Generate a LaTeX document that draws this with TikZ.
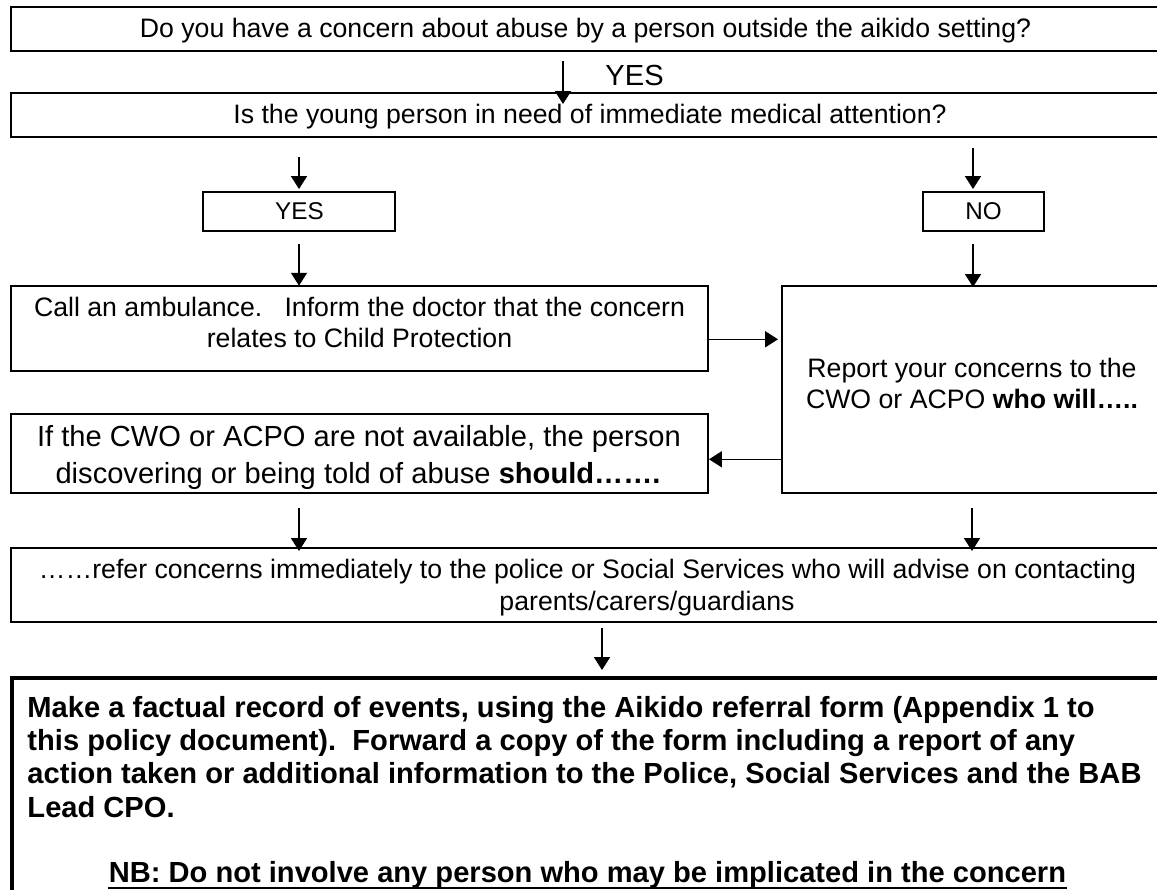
\documentclass[tikz,border=0pt]{standalone}
\usepackage{fontspec}
\setmainfont{Liberation Sans}
\usetikzlibrary{arrows.meta,fit,calc}
\tikzset{
  box/.style={draw, line width=0.82pt, inner sep=0pt, rectangle},
  boldbox/.style={draw, line width=1.65pt, inner sep=0pt, rectangle},
  txt/.style={inner sep=0pt, anchor=base, font=\fontsize{11}{12.65}\selectfont},
  txtbig/.style={txt, font=\fontsize{12}{14}\selectfont},
  txtsmall/.style={txt, font=\fontsize{10}{12}\selectfont},
  txtbold/.style={inner sep=0pt, anchor=base west, font=\fontsize{12}{14}\selectfont\bfseries},
  arr/.style={line width=0.55pt, -{Triangle[width=6.6pt,length=5.3pt]}},
}
\begin{document}
\begin{tikzpicture}[x=0.4124pt,y=-0.4124pt]
\useasboundingbox (0,0) rectangle (1157,890);
\clip (0,0) rectangle (1157,890);

% boxes
\node[box, fit={(11,7)(1162,51)}] (b1) {};
\node[box, fit={(11,93)(1162,137)}] (b2) {};
\node[box, fit={(203,192)(395,231)}] (yes) {};
\node[box, fit={(923,192)(1044,231)}] (no) {};
\node[box, fit={(11,286)(708,371)}] (call) {};
\node[box, fit={(782,286)(1162,493)}] (rep) {};
\node[box, fit={(11,414)(708,493)}] (if) {};
\node[box, fit={(11,548)(1162,622)}] (ref) {};
\node[boldbox, fit={(12,678)(1166,905)}] (rec) {};

% texts
\node[txt] (t1) at (585.5,37.5) {Do you have a concern about abuse by a person outside the aikido setting?};
\node[txtbig, anchor=base west] (tyes) at (605,86) {YES};
\node[txt] (t2) at (590,124) {Is the young person in need of immediate medical attention?};
\node[txtsmall] (tyes2) at (299.5,219.3) {YES};
\node[txtsmall] (tno) at (983.5,219.3) {NO};
\node[txt] (tc1) at (359.5,317) {Call an ambulance.\ \ \ Inform the doctor that the concern};
\node[txt] (tc2) at (359.5,348) {relates to Child Protection};
\node[txt] (tr1) at (972,377.3) {Report your concerns to the};
\node[txt] (tr2) at (972,408.3) {CWO or ACPO \textbf{who will…..}};
\node[txtbig] (ti1) at (359,446.5) {If the CWO or ACPO are not available, the person};
\node[txtbig] (ti2) at (358,484) {discovering or being told of abuse \textbf{should…….}};
\node[txt] (tf1) at (587.5,578.3) {……refer concerns immediately to the police or Social Services who will advise on contacting};
\node[txt] (tf2) at (647,610) {parents/carers/guardians};

\node[txtbold] (m1) at (27,717) {Make a factual record of events, using the Aikido referral form (Appendix 1 to};
\node[txtbold] (m2) at (27,750) {this policy document).\ \ Forward a copy of the form including a report of any};
\node[txtbold] (m3) at (27,783) {action taken or additional information to the Police, Social Services and the BAB};
\node[txtbold] (m4) at (27,817) {Lead CPO.};
\node[txtbold, anchor=base] (nb) at (587.5,882) {NB: Do not involve any person who may be implicated in the concern};
\draw[line width=0.9pt] ([yshift=-2.5pt]nb.base west) -- ([yshift=-2.5pt]nb.base east);

% connectors
\draw[arr] ($(b1.south)+(-23.5,9.5)$) -- ($(b2.north)+(-23.5,12)$);
\draw[arr] ($(b2.south -| yes.north)+(0,19)$) -- ($(yes.north)+(0,-2)$);
\draw[arr] ($(yes.south)+(0,12)$) -- ($(call.north -| yes.south)+(0,0.7)$);
\draw[arr] ($(b2.south -| no.north)+(-10.5,10)$) -- ($(no.north)+(-10.5,-2)$);
\draw[arr] ($(no.south)+(-10.5,12)$) -- ($(rep.north -| no.south)+(-10.5,2)$);
\draw[arr] ($(call.east)+(-1,10.8)$) -- ($(rep.west |- call.east)+(-3,10.8)$);
\draw[arr] ($(rep.west)+(0,69.8)$) -- ($(if.east |- rep.west)+(0,69.8)$);
\draw[arr] ($(if.south -| yes.south)+(0,14)$) -- ($(ref.north -| yes.south)+(0,4)$);
\draw[arr] ($(rep.south)+(0,14)$) -- ($(ref.north -| rep.south)+(0,4)$);
\draw[arr] ($(ref.south)+(15.5,5)$) -- ($(rec.north -| ref.south)+(15.5,-6)$);
\end{tikzpicture}
\end{document}
